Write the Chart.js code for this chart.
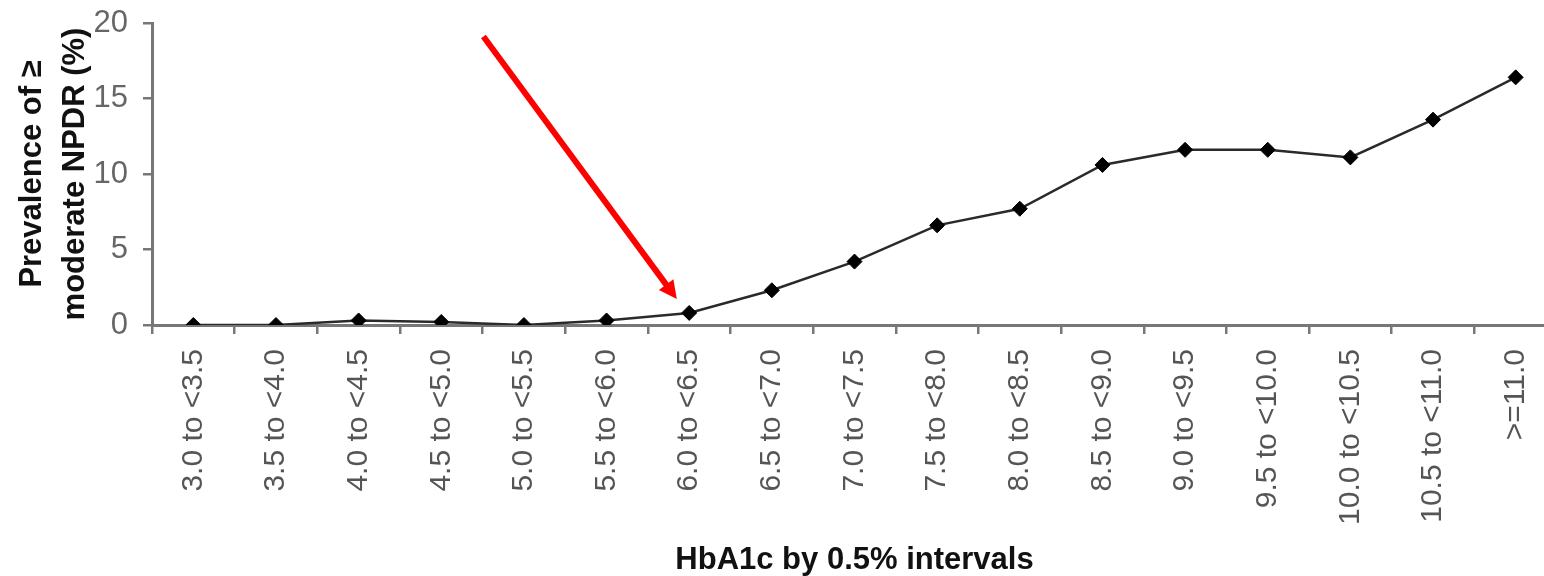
<!DOCTYPE html>
<html>
<head>
<meta charset="utf-8">
<script src="https://cdn.jsdelivr.net/npm/chart.js@4/dist/chart.umd.min.js"></script>
<style>
  html, body { margin: 0; padding: 0; background: #fff; overflow: hidden; }
  #wrap { width: 1600px; height: 576px; position: relative; }
</style>
</head>
<body>
<div id="wrap"><canvas id="chart"></canvas></div>
<script>
// HbA1c categories (x axis)
const categories = [
  "3.0 to <3.5", "3.5 to <4.0", "4.0 to <4.5", "4.5 to <5.0", "5.0 to <5.5",
  "5.5 to <6.0", "6.0 to <6.5", "6.5 to <7.0", "7.0 to <7.5", "7.5 to <8.0",
  "8.0 to <8.5", "8.5 to <9.0", "9.0 to <9.5", "9.5 to <10.0", "10.0 to <10.5",
  "10.5 to <11.0", ">=11.0"
];

// prevalence of >= moderate NPDR
const prevalence = [0, 0, 0.3, 0.2, 0, 0.3, 0.8, 2.3, 4.2, 6.6, 7.7, 10.6, 11.6, 11.6, 11.1, 13.6, 16.4];

// y axis ticks
const yTicks = [0, 5, 10, 15, 20];

// red arrow, in data units: [category index, value]
const arrowFrom = [3.51, 19.1];
const arrowTo = [5.85, 1.72];

const axisGrey = '#777';
const font = 'Liberation Sans, Arial, sans-serif';

// draws the red arrow pointing at the 6.0 to <6.5 point
const arrowPlugin = {
  id: 'arrow',
  afterDatasetsDraw(chart) {
    const { ctx, scales } = chart;
    const x1 = scales.x.getPixelForValue(arrowFrom[0]);
    const y1 = scales.y.getPixelForValue(arrowFrom[1]);
    const x2 = scales.x.getPixelForValue(arrowTo[0]);
    const y2 = scales.y.getPixelForValue(arrowTo[1]);
    const ang = Math.atan2(y2 - y1, x2 - x1);
    const headLen = 18, headW = 9;
    const bx = x2 - Math.cos(ang) * headLen;
    const by = y2 - Math.sin(ang) * headLen;
    ctx.save();
    ctx.strokeStyle = '#ff0000';
    ctx.fillStyle = '#ff0000';
    ctx.lineWidth = 6;
    ctx.beginPath();
    ctx.moveTo(x1, y1);
    ctx.lineTo(bx + Math.cos(ang) * 2, by + Math.sin(ang) * 2);
    ctx.stroke();
    ctx.beginPath();
    ctx.moveTo(x2, y2);
    ctx.lineTo(bx + Math.sin(ang) * headW, by - Math.cos(ang) * headW);
    ctx.lineTo(bx - Math.sin(ang) * headW, by + Math.cos(ang) * headW);
    ctx.closePath();
    ctx.fill();
    ctx.restore();
  }
};

const ctx = document.getElementById('chart').getContext('2d');

let myChart = new Chart(ctx, {
  type: 'line',
  data: {
    labels: categories,
    datasets: [{
      data: prevalence,
      borderColor: '#2a2a2a',
      borderWidth: 2.5,
      pointStyle: 'rectRot',
      pointRadius: 7.5,
      pointBackgroundColor: '#000',
      pointBorderColor: '#000',
      pointBorderWidth: 1,
      tension: 0
    }]
  },
  options: {
    responsive: true,
    maintainAspectRatio: false,
    animation: false,
    layout: {
      padding: { top: 23, right: 43, bottom: 0, left: 0 }
    },
    plugins: {
      legend: { display: false },
      tooltip: { enabled: false }
    },
    scales: {
      x: {
        offset: true,
        afterFit(axis) { axis.height = 251; },
        grid: {
          offset: true,
          drawOnChartArea: false,
          drawTicks: true,
          tickLength: 9,
          color: axisGrey,
          lineWidth: 2.5
        },
        border: { display: true, color: axisGrey, width: 3 },
        ticks: {
          autoSkip: false,
          maxRotation: 90,
          minRotation: 90,
          padding: 15,
          color: '#555',
          font: { family: font, size: 30 }
        },
        title: {
          display: true,
          text: 'HbA1c by 0.5% intervals',
          color: '#111',
          font: { family: font, size: 31, weight: 'bold', lineHeight: 1.0 },
          padding: { top: 0, bottom: 0 }
        }
      },
      y: {
        min: yTicks[0],
        max: yTicks[yTicks.length - 1],
        afterBuildTicks(axis) {
          axis.ticks = yTicks.map(v => ({ value: v }));
        },
        afterFit(axis) {
          axis.width = 152;
          axis.paddingTop = 0;
          axis.paddingBottom = 0;
        },
        grid: {
          drawOnChartArea: false,
          drawTicks: true,
          tickLength: 9,
          color: axisGrey,
          lineWidth: 2.5
        },
        border: { display: true, color: axisGrey, width: 3 },
        ticks: {
          padding: 15,
          color: '#666',
          font: { family: font, size: 31 }
        },
        title: {
          display: true,
          text: ['Prevalence of \u2265', 'moderate NPDR (%)'],
          color: '#111',
          font: { family: font, size: 31, weight: 'bold', lineHeight: 1.39 },
          padding: { top: 10.5, bottom: 0 }
        }
      }
    }
  },
  plugins: [arrowPlugin]
});
</script>
</body>
</html>
